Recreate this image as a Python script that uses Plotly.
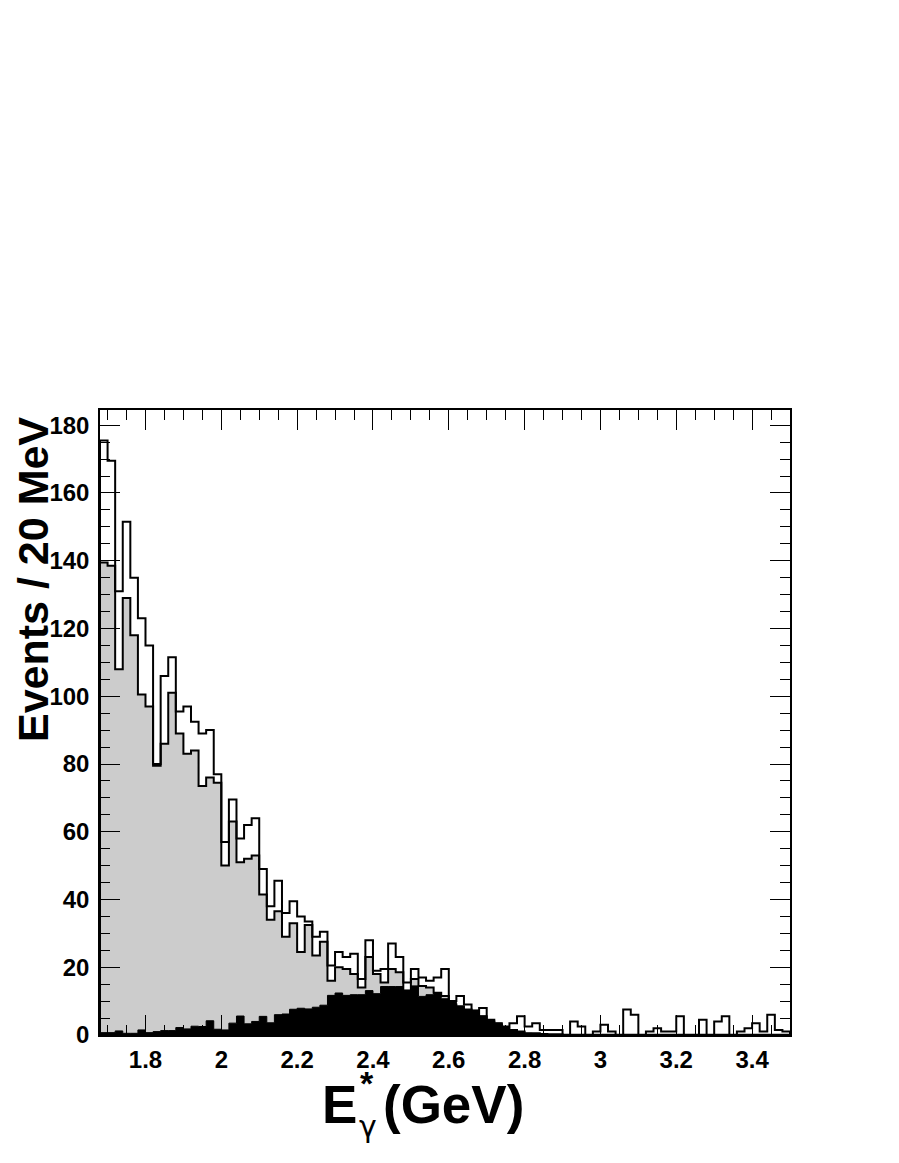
import numpy as np
import plotly.graph_objects as go

# ---- data (20 MeV bins starting at 1.68 GeV) ----
x_min = 1.68
bin_width = 0.02

data_counts = [175.5, 169.5, 131, 151.5, 135, 123, 115, 80, 106, 111.5,
               95.5, 97, 92.5, 89, 90, 77, 57, 69.5, 58, 62,
               64, 49, 38, 45.5, 36, 39.5, 35, 33.5, 29, 30.5,
               20.5, 24.5, 23, 24, 16.5, 28, 19, 19.5, 27, 23,
               15.5, 19.5, 17, 16, 17, 19.5, 10, 11.5, 9, 5.5,
               8, 4.5, 3.5, 2.5, 3.5, 5.5, 2.5, 3.5, 1.5, 1.5,
               1.5, 0, 4, 2.5, 0, 1, 3, 1, 0, 7.5,
               6, 0, 1, 2, 1, 1, 5.5, 0, 0, 4.5,
               0, 4, 5.5, 0, 1, 2, 3.5, 1, 6, 1.5,
               1]

total_bkg = [139.5, 138.5, 108, 129, 118, 100.5, 97, 79.5, 86, 101,
             89, 83, 84, 73.5, 76, 74.5, 50, 63, 51, 52,
             53, 41.5, 34, 36.5, 29, 33, 24.5, 32.5, 23.5, 27.5,
             16, 20, 19.5, 18, 14, 23, 18, 15.5, 19.5, 18.5,
             12.5, 16.5, 14.5, 14, 12.5, 11.5, 9, 8.5, 7.5, 5.5,
             5.5, 4, 3, 2, 1.5, 1, 0.5, 0.5, 0.3, 0.2,
             0.2, 0.1, 0.1, 0.1, 0.1, 0.1, 0.1, 0.1, 0.1, 0.1,
             0.1, 0.1, 0.1, 0.1, 0.1, 0.1, 0.1, 0.1, 0.1, 0.1,
             0.1, 0.1, 0.1, 0.1, 0.1, 0.1, 0.1, 0.1, 0.1, 0.1,
             0.1]

signal_part = [0.7, 0.7, 1.2, 0.5, 0.5, 1.5, 0.7, 1.0, 1.3, 1.3,
               2.2, 1.8, 2.6, 2.5, 4.2, 1.7, 1.5, 3.5, 5.6, 3.3,
               4.0, 5.5, 3.6, 6.0, 6.2, 7.6, 7.9, 7.7, 8.2, 8.8,
               11.7, 12.4, 11.7, 11.9, 11.9, 13.1, 12.2, 14.3, 14.3, 14.3,
               13.3, 14.5, 11.4, 11.9, 12.4, 10.7, 9.9, 8.4, 7.4, 7.4,
               5.6, 4.3, 3.5, 2.5, 1.5, 1.0, 0.5, 0.3, 0.1, 0.1,
               0.05, 0.05, 0.05, 0, 0, 0, 0, 0, 0, 0,
               0, 0, 0, 0, 0, 0, 0, 0, 0, 0,
               0, 0, 0, 0, 0, 0, 0, 0, 0, 0,
               0]

x_tick_vals = [1.8, 2.0, 2.2, 2.4, 2.6, 2.8, 3.0, 3.2, 3.4]
x_tick_text = ["1.8", "2", "2.2", "2.4", "2.6", "2.8", "3", "3.2", "3.4"]

edges = x_min + bin_width * np.arange(len(data_counts) + 1)


def step_xy(vals):
    xs = [edges[0]] + list(edges) + [edges[-1]]
    ys = [0] + list(vals) + [vals[-1], 0]
    return xs, ys


FONT = "Liberation Sans"

fig = go.Figure()

xs, ys = step_xy(total_bkg)
fig.add_trace(go.Scatter(x=xs, y=ys, mode="lines", line=dict(shape="hv", color="black", width=2),
                         fill="tozeroy", fillcolor="#cccccc", showlegend=False, hoverinfo="skip"))
xs, ys = step_xy(signal_part)
fig.add_trace(go.Scatter(x=xs, y=ys, mode="lines", line=dict(shape="hv", color="black", width=1),
                         fill="tozeroy", fillcolor="black", showlegend=False, hoverinfo="skip"))
xs, ys = step_xy(data_counts)
fig.add_trace(go.Scatter(x=xs, y=ys, mode="lines", line=dict(shape="hv", color="black", width=2),
                         showlegend=False, hoverinfo="skip"))

tickfont = dict(family=FONT, size=24, color="black", weight="bold")

# page body has an 8px margin, so the figure is 8px smaller on each axis
fig.update_layout(
    width=891, height=1155, autosize=False,
    margin=dict(l=92, r=109, t=402, b=128, pad=0),
    paper_bgcolor="white", plot_bgcolor="white",
    xaxis=dict(range=[1.68, 3.5], tickvals=x_tick_vals, ticktext=x_tick_text,
               ticks="inside", ticklen=20, tickwidth=1, tickcolor="black",
               showline=True, linecolor="black", linewidth=1.5, mirror="ticks",
               showgrid=False, zeroline=False, tickfont=tickfont, ticklabelstandoff=2,
               minor=dict(ticks="inside", ticklen=10, tickwidth=1, tickcolor="black",
                          dtick=0.05, tick0=1.7, showgrid=False)),
    yaxis=dict(range=[0, 184.5], tick0=0, dtick=20,
               ticks="inside", ticklen=20, tickwidth=1, tickcolor="black",
               showline=True, linecolor="black", linewidth=1.5, mirror="ticks",
               showgrid=False, zeroline=False, tickfont=tickfont, ticklabelstandoff=4,
               minor=dict(ticks="inside", ticklen=10, tickwidth=1, tickcolor="black",
                          dtick=5, tick0=0, showgrid=False)),
)


def px2x(px):
    return (px - 100) / 690.0


def py2y(py):
    return (1035 - py) / 625.0


annos = [
    dict(text="Events / 20 MeV", x=px2x(33), y=py2y(580), textangle=-90,
         font=dict(family=FONT, size=43, color="black", weight="bold")),
    dict(text="E", x=px2x(321), y=py2y(1104), xanchor="left",
         font=dict(family=FONT, size=53, color="black", weight="bold")),
    dict(text="(GeV)", x=px2x(525), y=py2y(1104), xanchor="right",
         font=dict(family=FONT, size=53, color="black", weight="bold")),
    dict(text="γ", x=px2x(368), y=py2y(1126),
         font=dict(family="DejaVu Sans", size=30, color="black")),
    dict(text="*", x=px2x(367), y=py2y(1083),
         font=dict(family=FONT, size=34, color="black", weight="bold")),
]
for a in annos:
    a.setdefault("xanchor", "center")
    a.setdefault("yanchor", "middle")
    fig.add_annotation(xref="paper", yref="paper", showarrow=False, borderpad=0, **a)

fig.write_html("out.html")
